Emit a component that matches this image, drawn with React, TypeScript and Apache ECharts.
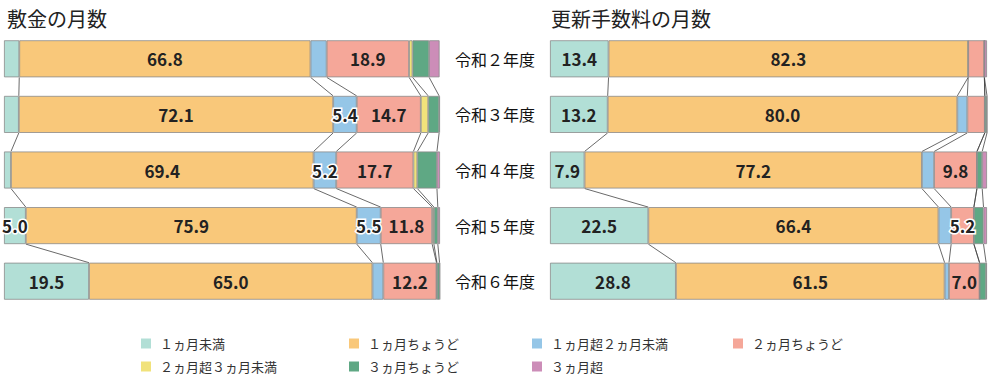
import React, { useEffect, useRef } from "react";
import * as echarts from "echarts";

const categories = ["令和２年度", "令和３年度", "令和４年度", "令和５年度", "令和６年度"];
const seriesNames = [
  "１ヵ月未満",
  "１ヵ月ちょうど",
  "１ヵ月超２ヵ月未満",
  "２ヵ月ちょうど",
  "２ヵ月超３ヵ月未満",
  "３ヵ月ちょうど",
  "３ヵ月超",
];
const colors = ["#b2dfd6", "#f9c87a", "#95c6e7", "#f5a799", "#f1e27b", "#5fa884", "#cc8db8"];

// 敷金の月数 (rows: 令和2..6年度, columns follow seriesNames)
const depositR2 = [3.5, 66.8, 3.7, 18.9, 0.8, 3.8, 2.4];
const depositR3 = [3.4, 72.1, 5.4, 14.7, 1.7, 2.5, 0.2];
const depositR4 = [1.6, 69.4, 5.2, 17.7, 0.9, 4.5, 0.7];
const depositR5 = [5.0, 75.9, 5.5, 11.8, 0.4, 0.9, 0.5];
const depositR6 = [19.5, 65.0, 2.5, 12.2, 0.1, 0.6, 0.1];

// 更新手数料の月数
const renewalR2 = [13.4, 82.3, 0, 3.7, 0, 0, 0.6];
const renewalR3 = [13.2, 80.0, 2.3, 4.0, 0, 0.5, 0];
const renewalR4 = [7.9, 77.2, 2.8, 9.8, 0, 1.2, 1.1];
const renewalR5 = [22.5, 66.4, 2.9, 5.2, 0, 2.2, 0.8];
const renewalR6 = [28.8, 61.5, 1.0, 7.0, 0, 1.5, 0.2];

const depositRows = [depositR2, depositR3, depositR4, depositR5, depositR6];
const renewalRows = [renewalR2, renewalR3, renewalR4, renewalR5, renewalR6];

const chartTitles = ["敷金の月数", "更新手数料の月数"];

const FONT = "'Noto Sans CJK JP', 'Noto Sans', sans-serif";
const BAR_W = 37;

function buildSeries(rows: number[][], idx: number) {
  const out: any[] = [];
  seriesNames.forEach((name, s) => {
    out.push({
      type: "bar",
      name,
      stack: "s" + idx,
      xAxisIndex: idx,
      yAxisIndex: idx,
      barWidth: BAR_W,
      itemStyle: { color: colors[s], borderColor: "#8a8a8a", borderWidth: 0.8 },
      label: {
        show: true,
        position: "inside",
        fontFamily: FONT,
        fontSize: 17,
        fontWeight: "bold",
        color: "#222",
        formatter: (p: any) => (p.value >= 5 ? Number(p.value).toFixed(1) : ""),
      },
      data: rows.map((r) => ({
        value: r[s],
        label:
          r[s] < 6
            ? { textBorderColor: "#fff", textBorderWidth: 3 }
            : { textBorderWidth: 0 },
      })),
    });
  });
  // connectors between consecutive bars at each segment boundary
  const conn: number[][] = [];
  for (let i = 0; i < rows.length - 1; i++) {
    let a = 0;
    let b = 0;
    for (let k = 0; k < seriesNames.length - 1; k++) {
      a += rows[i][k];
      b += rows[i + 1][k];
      conn.push([a, i, b, i + 1]);
    }
  }
  out.push({
    type: "custom",
    xAxisIndex: idx,
    yAxisIndex: idx,
    silent: true,
    clip: false,
    z: 1,
    encode: { x: [0, 2], y: [1, 3] },
    data: conn,
    renderItem: (params: any, api: any) => {
      const p1 = api.coord([api.value(0), api.value(1)]);
      const p2 = api.coord([api.value(2), api.value(3)]);
      const half = BAR_W / 2;
      return {
        type: "line",
        shape: { x1: p1[0], y1: p1[1] + half, x2: p2[0], y2: p2[1] - half },
        style: { stroke: "#444", lineWidth: 0.8 },
      };
    },
  });
  return out;
}

const legendCols = [
  [seriesNames[0], seriesNames[4]],
  [seriesNames[1], seriesNames[5]],
  [seriesNames[2], seriesNames[6]],
  [seriesNames[3]],
];
const legendLeft = [136, 344, 527, 728];

export default function App() {
  const ref = useRef<HTMLDivElement>(null);
  useEffect(() => {
    if (!ref.current) return;
    const chart = echarts.init(ref.current, undefined, { renderer: "svg" });
    const grids = [
      { left: 4, width: 436, top: 31, height: 278 },
      { left: 550, width: 437, top: 31, height: 278 },
    ];
    const option: any = {
      animation: false,
      backgroundColor: "#fff",
      title: chartTitles.map((t, i) => ({
        text: t,
        left: i === 0 ? 2 : 546,
        top: 3,
        textStyle: { fontFamily: FONT, fontSize: 20, fontWeight: "normal", color: "#222" },
      })),
      legend: legendCols.map((d, i) => ({
        data: d,
        orient: "vertical",
        left: legendLeft[i],
        top: 332,
        itemWidth: 10,
        itemHeight: 10,
        itemGap: 10,
        icon: "rect",
        itemStyle: { borderWidth: 0 },
        selectedMode: false,
        textStyle: { fontFamily: FONT, fontSize: 13, color: "#333", lineHeight: 13, padding: [0, 0, 0, 4] },
      })),
      grid: grids,
      xAxis: grids.map((_, i) => ({
        type: "value",
        gridIndex: i,
        min: 0,
        max: 100,
        show: false,
      })),
      yAxis: grids.map((_, i) => ({
        type: "category",
        gridIndex: i,
        data: categories,
        inverse: true,
        axisLine: { show: false },
        axisTick: { show: false },
        splitLine: { show: false },
        axisLabel: {
          show: i === 1,
          margin: 15,
          fontFamily: FONT,
          fontSize: 16,
          fontWeight: "normal",
          color: "#111",
        },
      })),
      series: [...buildSeries(depositRows, 0), ...buildSeries(renewalRows, 1)],
    };
    chart.setOption(option);
    return () => chart.dispose();
  }, []);
  return (
    <div
      ref={ref}
      style={{ position: "fixed", left: 0, top: 0, width: 1000, height: 386 }}
    />
  );
}
